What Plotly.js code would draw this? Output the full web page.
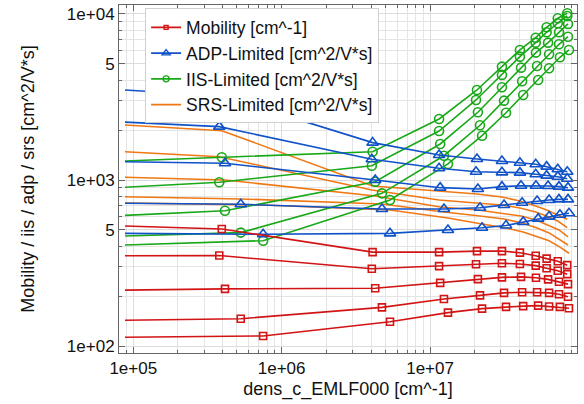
<!DOCTYPE html>
<html>
<head>
<meta charset="utf-8">
<script src="https://cdn.plot.ly/plotly-3.0.1.min.js"></script>
<style>
  html, body { margin: 0; padding: 0; background: #fff; }
  #chart { width: 584px; height: 404px; }
</style>
</head>
<body>
<div id="chart"></div>
<script>
// Carrier density sweep: five runs, each sampled at its own densities [cm^-1]
const xSet1 = [8.8e4, 3.95e5, 4.1e6, 1.15e7, 2.07e7, 3.05e7, 4.03e7, 5.15e7, 6.1e7, 7.25e7, 8.4e7];
const xSet2 = [8.8e4, 3.8e5, 4.05e6, 1.15e7, 2.04e7, 3.05e7, 4.03e7, 5.15e7, 6.1e7, 7.25e7, 8.4e7];
const xSet3 = [8.8e4, 4.15e5, 4.27e6, 1.17e7, 2.1e7, 3.05e7, 4.1e7, 5.17e7, 6.24e7, 7.39e7, 8.5e7];
const xSet4 = [8.8e4, 5.3e5, 4.74e6, 1.24e7, 2.17e7, 3.15e7, 4.17e7, 5.26e7, 6.34e7, 7.39e7, 8.5e7];
const xSet5 = [8.8e4, 7.5e5, 5.37e6, 1.32e7, 2.24e7, 3.25e7, 4.24e7, 5.35e7, 6.34e7, 7.5e7, 8.63e7];

// Total mobility
const mobility1 = [528, 507, 368, 368, 373, 373, 365, 350, 336, 324, 307];
const mobility2 = [350, 351, 292, 303, 311, 315, 312, 305, 294, 284, 271];
const mobility3 = [217, 221, 223, 240, 253, 259, 261, 258, 252, 244, 236];
const mobility4 = [143, 146, 171, 192, 202, 209, 211, 211, 209, 205, 198];
const mobility5 = [113, 115, 140, 159, 168, 172, 174, 175, 173, 172, 169];

// Acoustic deformation potential limited mobility
const adp1 = [3487, 3206, 1679, 1415, 1339, 1301, 1271, 1244, 1203, 1160, 1122];
const adp2 = [2230, 2096, 1333, 1176, 1122, 1112, 1107, 1082, 1062, 1047, 1018];
const adp3 = [1289, 1261, 1000, 899, 883, 912, 924, 924, 920, 912, 899];
const adp4 = [724, 714, 669, 669, 681, 707, 729, 747, 758, 764, 764];
const adp5 = [477, 471, 477, 500, 516, 532, 559, 585, 602, 618, 630];

// Ionized impurity scattering limited mobility
const iis1 = [1302, 1370, 1481, 2331, 3485, 4815, 6069, 7196, 8315, 9422, 10097];
const iis2 = [904, 969, 1219, 1973, 3034, 4295, 5534, 6718, 7762, 8796, 9729];
const iis3 = [612, 653, 977, 1648, 2559, 3616, 4750, 5850, 6718, 7762, 8710];
const iis4 = [460, 482, 831, 1400, 2137, 3006, 3934, 4863, 5719, 6566, 7295];
const iis5 = [406, 431, 758, 1249, 1849, 2541, 3252, 4000, 4708, 5486, 6069];

// Surface roughness scattering limited mobility
const srs1 = [2143, 1982, 920, 858, 824, 790, 747, 697, 659, 615, 580];
const srs2 = [1480, 1381, 871, 758, 727, 707, 678, 641, 607, 566, 516];
const srs3 = [1038, 1000, 801, 687, 659, 633, 607, 574, 535, 500, 455];
const srs4 = [793, 769, 717, 641, 607, 582, 551, 514, 480, 442, 406];
const srs5 = [727, 707, 659, 590, 543, 514, 486, 454, 430, 394, 362];

const legendNames = ['Mobility [cm^-1]', 'ADP-Limited [cm^2/V*s]', 'IIS-Limited [cm^2/V*s]', 'SRS-Limited [cm^2/V*s]'];

const xSets = [xSet1, xSet2, xSet3, xSet4, xSet5];
const groups = [
  { ys: [srs1, srs2, srs3, srs4, srs5], color: 'rgb(240,120,20)', symbol: null, size: 0, name: legendNames[3] },
  { ys: [iis1, iis2, iis3, iis4, iis5], color: 'rgb(24,168,24)', symbol: 'circle-open', size: 9, name: legendNames[2] },
  { ys: [adp1, adp2, adp3, adp4, adp5], color: 'rgb(16,82,200)', symbol: 'triangle-up-open', size: 10, name: legendNames[1] },
  { ys: [mobility1, mobility2, mobility3, mobility4, mobility5], color: 'rgb(210,20,20)', symbol: 'square-open', size: 7, name: legendNames[0] }
];

const traces = [];
groups.forEach(g => {
  g.ys.forEach((ys, k) => {
    const xs = xSets[k];
    traces.push({
      x: xs, y: ys, type: 'scatter', mode: 'lines', showlegend: false,
      line: { color: g.color, width: 1.6 }, hoverinfo: 'skip'
    });
    if (g.symbol) {
      // the first sample of every run is drawn without a marker
      traces.push({
        x: xs.slice(1), y: ys.slice(1), type: 'scatter', mode: 'markers', showlegend: false,
        marker: { symbol: g.symbol, size: g.size, color: g.color, line: { color: g.color, width: 1.6 } }
      });
    }
  });
});

// legend entries, in the order Mobility, ADP, IIS, SRS
[3, 2, 1, 0].forEach(i => {
  const g = groups[i];
  const entry = {
    x: [null], y: [null], type: 'scatter', mode: g.symbol ? 'lines+markers' : 'lines',
    name: g.name, showlegend: true,
    line: { color: g.color, width: 1.6 }
  };
  if (g.symbol) {
    entry.marker = { symbol: g.symbol, size: g.size - 3, color: g.color, line: { color: g.color, width: 1.4 } };
  }
  traces.push(entry);
});

function minorVals(d0, d1) {
  const v = [];
  for (let d = d0; d <= d1; d++) for (let m = 2; m <= 9; m++) v.push(m * Math.pow(10, d));
  return v;
}

const axisCommon = {
  type: 'log', showline: true, linecolor: '#666', linewidth: 1, mirror: 'allticks',
  ticks: 'inside', ticklen: 6, tickcolor: '#666', showgrid: true, gridcolor: '#dcdcdc', gridwidth: 1,
  zeroline: false, tickfont: { size: 17, color: '#111' }, tickmode: 'array'
};

const layout = {
  width: 584, height: 404,
  margin: { l: 119, r: 7, t: 5, b: 51 },
  paper_bgcolor: '#fff', plot_bgcolor: '#fff',
  font: { family: 'Liberation Sans, Arial, sans-serif', color: '#111' },
  xaxis: Object.assign({}, axisCommon, {
    range: [4.904, 7.99],
    tickvals: [1e5, 1e6, 1e7], ticktext: ['1e+05', '1e+06', '1e+07'],
    minor: { tickmode: 'array', tickvals: minorVals(4, 7), ticks: 'inside', ticklen: 3, tickcolor: '#666', showgrid: true, gridcolor: '#e4e4e4' },
    title: { text: 'dens_c_EMLF000 [cm^-1]', font: { size: 18 }, standoff: 4 }
  }),
  yaxis: Object.assign({}, axisCommon, {
    range: [1.958, 4.054],
    tickvals: [1e2, 5e2, 1e3, 5e3, 1e4], ticktext: ['1e+02', '5', '1e+03', '5', '1e+04'],
    minor: { tickmode: 'array', tickvals: minorVals(2, 3), ticks: 'inside', ticklen: 3, tickcolor: '#666', showgrid: true, gridcolor: '#e4e4e4' },
    title: { text: 'Mobility / iis / adp / srs [cm^2/V*s]', font: { size: 18 }, standoff: 27 }
  }),
  legend: {
    x: 0.057, y: 0.99, xanchor: 'left', yanchor: 'top',
    bgcolor: '#fff', bordercolor: '#cfcfcf', borderwidth: 1,
    font: { size: 17.5, color: '#111' }, tracegroupgap: 0, itemwidth: 30
  },
  showlegend: true
};

Plotly.newPlot('chart', traces, layout, { staticPlot: true, displayModeBar: false });
</script>
</body>
</html>
